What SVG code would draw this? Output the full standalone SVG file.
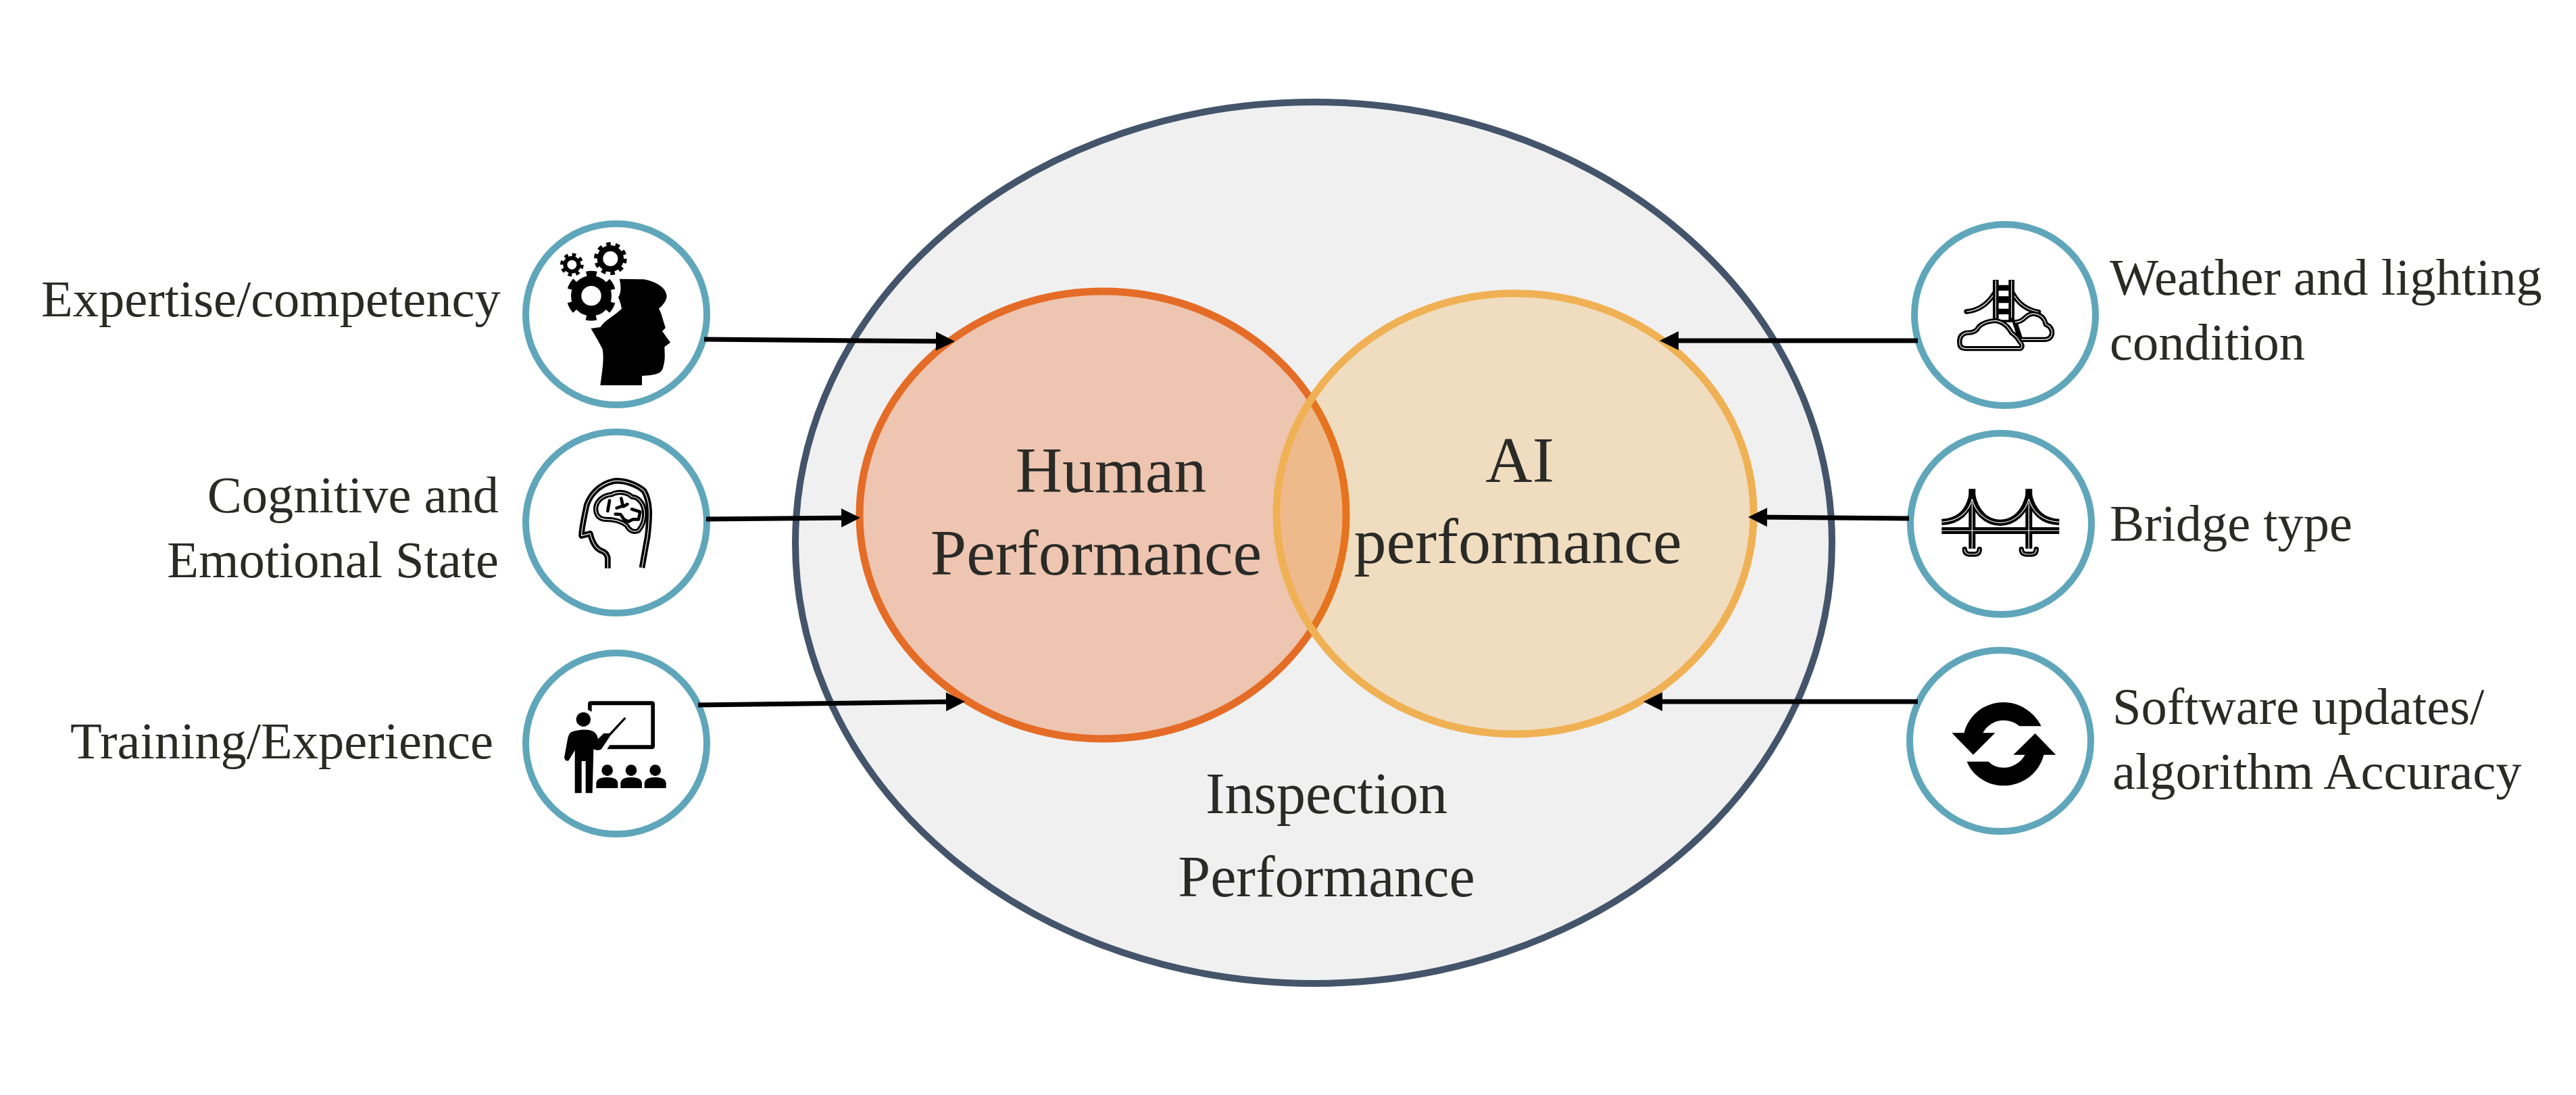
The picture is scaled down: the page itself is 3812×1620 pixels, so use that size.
<svg xmlns="http://www.w3.org/2000/svg" width="3812" height="1620" viewBox="0 0 3812 1620">
<style>
text{font-family:"Liberation Serif","Times New Roman",serif;fill:#2a2a26}
.lab{font-size:76.500px}
.big{font-size:96px}
.mid{font-size:86px}
.badge{fill:#fff;stroke:#5fa6bb;stroke-width:10}
.ln{stroke:#000;stroke-width:7;fill:none;marker-end:url(#ah)}
.k{fill:none;stroke:#000;stroke-linejoin:round}
.w{fill:none;stroke:#fff;stroke-width:3.500;stroke-linejoin:round}
.gear{fill:none;stroke:#000}
</style>
<defs>
<marker id="ah" markerUnits="userSpaceOnUse" markerWidth="30" markerHeight="30" refX="20" refY="15" orient="auto"><path d="M1 1L29 15L1 29Z" fill="#000"/></marker>
</defs>
<rect width="3812" height="1620" fill="#fff"/>
<g id="inspection"><ellipse cx="1944" cy="803" rx="767" ry="652" fill="#f0f0f1" stroke="#44546a" stroke-width="10"/>
<text class="mid" x="1963" y="1203" text-anchor="middle">Inspection</text><text class="mid" x="1963" y="1326" text-anchor="middle">Performance</text></g>
<g id="human"><ellipse cx="1632" cy="762" rx="360" ry="331" fill="#eec5b0" stroke="#e46c26" stroke-width="11"/></g>
<g id="ai"><ellipse cx="2242" cy="760" rx="353" ry="326" fill="#f09100" fill-opacity=".2" stroke="#efb153" stroke-width="11"/></g>
<g id="human-label"><text class="big" x="1644" y="728" text-anchor="middle">Human</text><text class="big" x="1622" y="850" text-anchor="middle">Performance</text></g>
<g id="ai-label"><text class="big" x="2249" y="713" text-anchor="middle">AI</text><text class="big" x="2246" y="833" text-anchor="middle">performance</text></g>

<g id="expertise"><circle class="badge" cx="912" cy="465" r="134"/>
<g transform="translate(820 360) scale(.3333)">
<path d="M290 158L400 160C470 175 498 205 500 235C498 265 465 290 465 290C478 310 485 350 495 375L480 390L516 440L490 460C490 480 495 515 485 545C480 575 460 585 390 588V630H205C215 560 222 510 215 470C190 420 163 378 163 378L205 372C225 340 270 320 300 290C295 260 285 240 285 240C305 210 290 158 290 158Z"/>
<circle class="gear" cx="165" cy="233" r="67" stroke-width="46"/><circle class="gear" cx="165" cy="233" r="99" stroke-width="23" stroke-dasharray="45 58.700" transform="rotate(17 165 233)"/>
<circle class="gear" cx="79" cy="95" r="30" stroke-width="18"/><circle class="gear" cx="79" cy="95" r="45" stroke-width="14" stroke-dasharray="17 18.300"/>
<circle class="gear" cx="250" cy="68" r="46" stroke-width="26"/><circle class="gear" cx="250" cy="68" r="65" stroke-width="16" stroke-dasharray="20 20.840"/>
</g>
<text class="lab" x="61" y="468">Expertise/competency</text></g>

<g id="cognitive"><circle class="badge" cx="912" cy="773" r="134"/>
<g transform="translate(840 700) scale(.3333)">
<path class="k" stroke-width="26" d="M178 422V375Q172 352 150 345C125 335 110 310 100 268L62 278C60 255 70 210 85 140C100 100 135 50 205 35C250 30 310 50 340 80C368 130 365 190 355 280L330 420"/>
<path class="w" d="M178 422V375Q172 352 150 345C125 335 110 310 100 268L62 278C60 255 70 210 85 140C100 100 135 50 205 35C250 30 310 50 340 80C368 130 365 190 355 280L330 420"/>
<path class="k" stroke-width="22" d="M125 155C128 120 160 98 195 95C225 78 265 85 285 105C310 105 335 130 340 165C345 200 335 230 315 255C295 265 272 255 262 232C240 215 205 205 170 205C140 205 123 185 125 155Z"/>
<path class="w" d="M125 155C128 120 160 98 195 95C225 78 265 85 285 105C310 105 335 130 340 165C345 200 335 230 315 255C295 265 272 255 262 232C240 215 205 205 170 205C140 205 123 185 125 155Z"/>
<path class="k" stroke-width="14" stroke-linecap="round" d="M186 122L178 168M238 112L245 145L218 155M265 138L248 148M212 182L235 183L250 205L270 215L290 205L315 205L322 172L285 160"/>
</g>
<text class="lab" x="738" y="758" text-anchor="end">Cognitive and</text><text class="lab" x="738" y="854" text-anchor="end">Emotional State</text></g>

<g id="training"><circle class="badge" cx="912" cy="1100" r="134"/>
<g transform="translate(825 1030) scale(.3333)">
<path d="M150 68L135 60V35Q135 22 148 22H418Q432 22 432 35V222Q432 235 418 235H220L232 217H415V40H152V68Z"/>
<circle cx="115" cy="103" r="32"/>
<path d="M60 160Q100 145 140 150Q175 155 180 190L205 165H230L298 92L304 100L235 175L195 235Q180 245 160 235L155 430H125V288H107V430H77V240L50 285Q35 292 30 272L45 190Q48 170 60 160Z"/>
<circle cx="221" cy="329" r="25"/><path d="M172 408V385Q175 360 220 360Q265 360 268 385V408Z"/>
<circle cx="327" cy="329" r="25"/><path d="M280 408V385Q283 360 327 360Q372 360 375 385V408Z"/>
<circle cx="434" cy="329" r="25"/><path d="M386 408V385Q389 360 434 360Q479 360 482 385V408Z"/>
</g>
<text class="lab" x="730" y="1122" text-anchor="end">Training/Experience</text></g>

<g id="weather"><circle class="badge" cx="2967" cy="466" r="134"/>
<g transform="translate(2890 405) scale(.3333)">
<path class="k" stroke-width="22" stroke-linecap="round" d="M60 168Q140 160 185 85M265 85Q300 155 380 170"/>
<path class="w" d="M60 168Q140 160 185 85M265 85Q300 155 380 170"/>
<path d="M177 27H203V50H247V27H273V215H177ZM203 75V100H247V75ZM203 130V155H247V130ZM203 180V205H247V180Z" fill-rule="evenodd"/>
<path class="w" d="M190 30V205M260 30V195"/>
<path d="M275 215Q300 215 320 195Q340 175 365 178Q405 185 412 225Q440 235 440 265Q435 292 405 292H300Z" fill="#fff" stroke="#000" stroke-width="22" stroke-linejoin="round"/>
<path class="w" d="M275 215Q300 215 320 195Q340 175 365 178Q405 185 412 225Q440 235 440 265Q435 292 405 292H300"/>
<path d="M30 310Q25 270 60 262Q100 265 115 235Q140 210 190 208Q235 215 260 262Q285 280 295 300Q315 320 300 332H55Q30 330 30 310Z" fill="#fff" stroke="#000" stroke-width="22" stroke-linejoin="round"/>
<path class="w" d="M30 310Q25 270 60 262Q100 265 115 235Q140 210 190 208Q235 215 260 262Q285 280 295 300Q315 320 300 332H55Q30 330 30 310Z"/>
</g>
<text class="lab" x="3122" y="436">Weather and lighting</text><text class="lab" x="3122" y="532">condition</text></g>

<g id="bridge"><circle class="badge" cx="2961" cy="775" r="134"/>
<g transform="translate(2860 715) scale(.3333)">
<path class="k" stroke-width="28" d="M40 172C110 170 160 130 175 50C190 130 240 175 300 175C360 175 410 130 427 50C445 130 490 170 562 172"/>
<path class="k" stroke-width="30" d="M175 25V290M427 25V290M40 210H562"/>
<path class="k" stroke-width="22" stroke-linecap="round" d="M142 292Q142 315 165 315H187Q208 315 208 292M394 292Q394 315 417 315H439Q460 315 460 292"/>
<path class="w" d="M40 172C110 170 160 130 175 70C190 130 240 175 300 175C360 175 410 130 427 70C445 130 490 170 562 172M175 85V290M427 85V290M40 210H562M142 292Q142 315 165 315H187Q208 315 208 292M394 292Q394 315 417 315H439Q460 315 460 292"/>
</g>
<text class="lab" x="3122" y="800">Bridge type</text></g>

<g id="software"><circle class="badge" cx="2960" cy="1096" r="134"/>
<g transform="translate(2880 1030) scale(.3333)">
<path d="M25 163H80C95 95 160 27 255 27C330 27 395 75 422 133H325C305 115 280 107 255 107C215 107 180 130 163 163H217L120 260Z"/>
<path d="M487 260H433C415 335 345 397 255 397C180 397 115 350 92 290H188C205 308 230 317 255 317C295 317 330 295 350 260H298L395 165Z"/>
</g>
<text class="lab" x="3126" y="1071">Software updates/</text><text class="lab" x="3126" y="1167">algorithm Accuracy</text></g>

<g id="connectors">
<path class="ln" d="M1042 502L1404 505"/><path class="ln" d="M1045 768L1264 766"/><path class="ln" d="M1033 1043L1419 1038"/>
<path class="ln" d="M2838 504L2465 504"/><path class="ln" d="M2825 767L2596 765"/><path class="ln" d="M2838 1038L2441 1038"/>
</g>
</svg>
